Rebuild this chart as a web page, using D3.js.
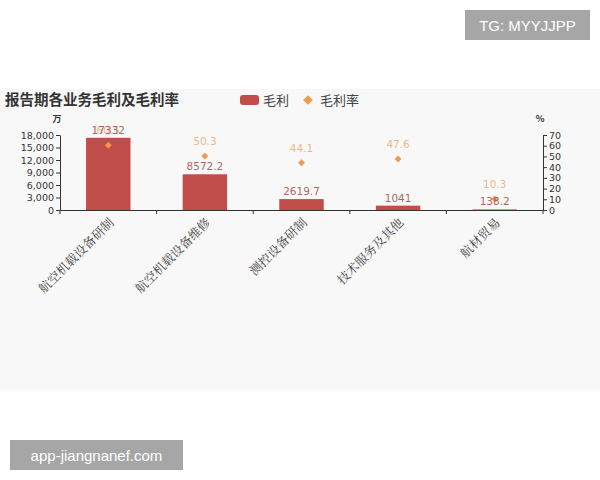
<!DOCTYPE html>
<html><head><meta charset="utf-8">
<script src="https://cdn.jsdelivr.net/npm/d3@7"></script>
<style>body{margin:0;background:#fff;}svg{display:block;}</style>
</head><body>
<svg id="c" width="600" height="480"></svg>
<script>
const categories = ["航空机载设备研制","航空机载设备维修","测控设备研制","技术服务及其他","航材贸易"];
const profit = [17332, 8572.2, 2619.7, 1041, 138.2];
const rate = [60.5, 50.3, 44.1, 47.6, 10.3];
const leftTicks = [0,3000,6000,9000,12000,15000,18000];
const rightTicks = [0,10,20,30,40,50,60,70];

const font = "'Noto Sans CJK SC','DejaVu Sans',sans-serif";
const svg = d3.select("#c");
svg.append("rect").attr("x",0).attr("y",89).attr("width",600).attr("height",301).attr("fill","#f8f8f8");

const m = {l:60, r:543, t:135, b:210};
const x = d3.scaleBand().domain(categories).range([m.l, m.r]).paddingInner(0.54).paddingOuter(0.27);
const yL = d3.scaleLinear().domain([0,18000]).range([m.b, m.t]);
const yR = d3.scaleLinear().domain([0,70]).range([m.b, m.t]);
const xc = d3.scaleBand().domain(categories).range([m.l, m.r]);

const axisColor = "#333";
const gL = svg.append("g").attr("transform",`translate(${m.l},0)`)
  .call(d3.axisLeft(yL).tickValues(leftTicks).tickFormat(d3.format(",")).tickSize(4).tickSizeOuter(0));
const gR = svg.append("g").attr("transform",`translate(${m.r},0)`)
  .call(d3.axisRight(yR).tickValues(rightTicks).tickSize(4).tickSizeOuter(0));
[gL,gR].forEach(g=>{g.selectAll("text").attr("font-family","'DejaVu Sans',sans-serif").attr("font-size",9.5).attr("fill","#333");
  g.selectAll("line,path").attr("stroke",axisColor);});
gL.selectAll("text").attr("dx",1);
gR.selectAll("text").attr("dx",-1);

const gX = svg.append("g").attr("transform",`translate(0,${m.b})`)
  .call(d3.axisBottom(xc).tickSize(0).tickSizeOuter(0).tickFormat(""));
gX.selectAll("path").attr("stroke",axisColor);
gX.selectAll(".tick").remove();
const bounds = d3.range(categories.length+1).map(i=>m.l + i*xc.step());
gX.selectAll(".bt").data(bounds).join("line").attr("x1",d=>d).attr("x2",d=>d).attr("y1",0).attr("y2",4).attr("stroke",axisColor);

svg.append("g").selectAll("text").data(categories).join("text")
  .attr("transform",d=>`translate(${xc(d)+xc.bandwidth()/2+4},${m.b+11}) rotate(-45)`)
  .attr("text-anchor","end").attr("dominant-baseline","middle")
  .attr("font-family","'Noto Serif CJK SC','Noto Sans CJK SC',serif").attr("font-size",12.5).attr("fill","#444")
  .text(d=>d);

svg.append("g").selectAll("rect").data(profit).join("rect")
  .attr("x",(d,i)=>x(categories[i])).attr("width",x.bandwidth())
  .attr("y",d=>yL(d)).attr("height",d=>m.b-yL(d)).attr("fill","#c14d4a");

const sym = d3.symbol().type(d3.symbolDiamond2).size(30);
svg.append("g").selectAll("path").data(rate).join("path")
  .attr("transform",(d,i)=>`translate(${xc(categories[i])+xc.bandwidth()/2},${yR(d)})`)
  .attr("d",sym).attr("fill","#f09a50");
svg.append("g").selectAll("text").data(rate).join("text")
  .attr("x",(d,i)=>xc(categories[i])+xc.bandwidth()/2).attr("y",d=>yR(d)-11)
  .attr("text-anchor","middle").attr("font-family","'DejaVu Sans',sans-serif").attr("font-size",10.5).attr("fill","#eab27a").attr("fill-opacity",0.9)
  .text(d=>d);
svg.append("g").selectAll("text").data(profit).join("text")
  .attr("x",(d,i)=>x(categories[i])+x.bandwidth()/2).attr("y",d=>yL(d)-4)
  .attr("text-anchor","middle").attr("font-family","'DejaVu Sans',sans-serif").attr("font-size",10.5).attr("fill","#a5504e").attr("fill-opacity",0.9)
  .text(d=>d);

svg.append("text").attr("x",57).attr("y",122).attr("text-anchor","middle").attr("font-family",font).attr("font-size",9).attr("font-weight","bold").attr("fill","#333").text("万");
svg.append("text").attr("x",540).attr("y",122).attr("text-anchor","middle").attr("font-family",font).attr("font-size",9).attr("font-weight","bold").attr("fill","#333").text("%");

svg.append("text").attr("x",5).attr("y",105).attr("font-family",font).attr("font-size",14.5).attr("font-weight","bold").attr("fill","#333").text("报告期各业务毛利及毛利率");

svg.append("rect").attr("x",240).attr("y",95).attr("width",19).attr("height",10).attr("rx",3).attr("fill","#c14d4a");
svg.append("text").attr("x",263).attr("y",105).attr("font-family",font).attr("font-size",13).attr("fill","#444").text("毛利");
svg.append("path").attr("transform","translate(308,100)").attr("d",d3.symbol().type(d3.symbolDiamond2).size(60)()).attr("fill","#f09a50");
svg.append("text").attr("x",320).attr("y",105).attr("font-family",font).attr("font-size",13).attr("fill","#444").text("毛利率");

svg.append("rect").attr("x",465).attr("y",10).attr("width",125).attr("height",30).attr("fill","#a6a6a6");
svg.append("text").attr("x",527.5).attr("y",30.5).attr("text-anchor","middle").attr("font-family","'Liberation Sans',Arial,sans-serif").attr("font-size",15).attr("fill","#fff").text("TG: MYYJJPP");
svg.append("rect").attr("x",10).attr("y",440).attr("width",173).attr("height",30).attr("fill","#a6a6a6");
svg.append("text").attr("x",96.5).attr("y",460.5).attr("text-anchor","middle").attr("font-family","'Liberation Sans',Arial,sans-serif").attr("font-size",15).attr("fill","#fff").text("app-jiangnanef.com");
</script>
</body></html>
